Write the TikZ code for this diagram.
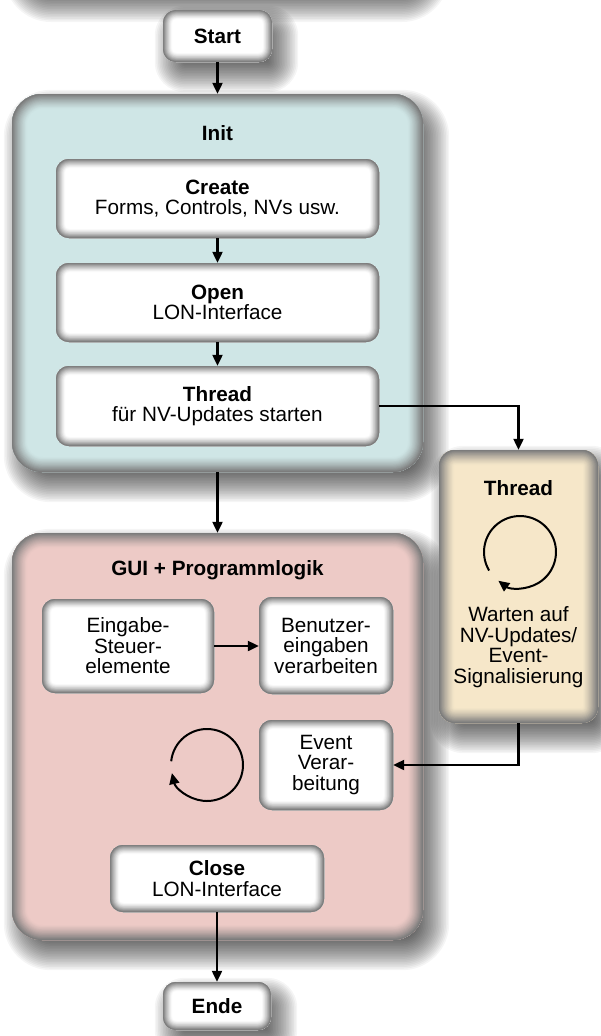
\documentclass[tikz,border=0pt]{standalone}
\usepackage{fontspec}
\setmainfont{Liberation Sans}
\usetikzlibrary{arrows.meta,calc}

\definecolor{edgegray}{HTML}{7C7C7C}
\definecolor{initfill}{HTML}{CFE6E6}
\definecolor{guifill}{HTML}{EDCAC6}
\definecolor{threadfill}{HTML}{F6E7C9}

\pgfdeclarelayer{shadow}
\pgfsetlayers{shadow,main}

\newcommand\fs{\fontsize{20.7}{20.5}\selectfont}

% inner bevel: stacked strokes along the border, clipped to the shape
\newcommand\bevelband[3]{%
  \foreach \k in {1,...,14}{%
    \pgfmathsetmacro\bw{2*#1*(15-\k)/14}%
    \pgfmathtruncatemacro\bp{round(100*(\k/14)^1.35)}%
    \draw[line width=\bw pt, draw=edgegray!\bp!#2, rounded corners=#3]
      (path picture bounding box.south west) rectangle (path picture bounding box.north east);
  }}

% soft drop shadow: stacked translucent rounded rectangles, offset down-right
\newcommand\castshadow[3]{% #1 lower-left corner, #2 upper-right corner, #3 corner radius
  \foreach \k in {0,...,21}{%
    \pgfmathsetmacro\e{17-34*\k/21}%
    \pgfmathsetmacro\rr{max(#3+\e,2)}%
    \fill[black, opacity=0.04, rounded corners=\rr pt]
      ($(#1)+(9-\e,13+\e)$) rectangle ($(#2)+(9+\e,13-\e)$);
  }}

\tikzset{
  bevel/.style n args={3}{fill=#2, rounded corners=#3, path picture={\bevelband{#1}{#2}{#3}}},
  stepbox/.style={bevel={9pt}{white}{13pt}, inner sep=0pt, align=center},
  panel/.style 2 args={bevel={15pt}{#1}{#2}, inner sep=0pt},
  conn/.style={line width=2.2pt, -{Triangle[length=11pt,width=10pt]}},
  loopline/.style={line width=2pt, -{Triangle[length=11pt,width=10pt]}},
  every node/.append style={font=\fs},
}

\begin{document}
\begin{tikzpicture}[x=1pt,y=-1pt]
\useasboundingbox (0,0) rectangle (600,1036);
\begin{pgfonlayer}{shadow}
\fill[white] (0,0) rectangle (600,1036);
\end{pgfonlayer}

% start
\node[stepbox, minimum width=109pt, minimum height=52pt] (start) at (217.5,36) {\textbf{Start}};

% init panel
\node[panel={initfill}{30pt}, minimum width=411pt, minimum height=378pt] (init) at (217.5,283) {};
\node (initT) at (217.5,133) {\textbf{Init}};
\node[stepbox, minimum width=323pt, minimum height=79pt] (create) at (217.5,198.5)
  {\textbf{Create}\\Forms, Controls, NVs usw.};
\node[stepbox, minimum width=323pt, minimum height=79pt] (open) at (217.5,302.5)
  {\textbf{Open}\\LON-Interface};
\node[stepbox, minimum width=323pt, minimum height=80pt] (thread) at (217.5,406)
  {\textbf{Thread}\\für NV-Updates starten};

% GUI panel
\node[panel={guifill}{30pt}, minimum width=411pt, minimum height=407pt] (gui) at (217.5,736.5) {};
\node (guiT) at (217.5,570) {\textbf{GUI + Programmlogik}};
\node[stepbox, minimum width=172pt, minimum height=94pt] (eing) at (128,646)
  {Eingabe-\\Steuer-\\elemente};
\node[stepbox, minimum width=134pt, minimum height=97pt] (benu) at (326,645.5)
  {Benutzer-\\eingaben\\verarbeiten};
\node[stepbox, minimum width=134pt, minimum height=90pt] (event) at (326,765)
  {Event\\Verar-\\beitung};
\node[stepbox, minimum width=214pt, minimum height=67pt] (close) at (217,878.5)
  {\textbf{Close}\\LON-Interface};
\coordinate (gloop) at (207,765);
\draw[loopline] (gloop) ++(186:36) arc[start angle=186, end angle=527, radius=36];

% end
\node[stepbox, minimum width=108pt, minimum height=48pt] (ende) at (217,1006) {\textbf{Ende}};

% worker thread panel
\node[panel={threadfill}{16pt}, minimum width=159pt, minimum height=273pt] (th2) at (518.5,586.5) {};
\node (th2T) at (518.5,488) {\textbf{Thread}};
\coordinate (tloop) at (520,552);
\draw[loopline] (tloop) ++(149:36) arc[start angle=149, end angle=487, radius=36];
\node[align=center] (th2txt) at (518.5,647) {Warten auf\\NV-Updates/\\Event-\\Signalisierung};

% connectors
\draw[conn] (start.south) -- (init.north);
\draw[conn] (create.south) -- (open.north);
\draw[conn] (open.south) -- (thread.north);
\draw[conn] (thread.east) -| (th2.north);
\draw[conn] (init.south) -- (gui.north);
\draw[conn] (eing.east) -- (eing.east -| benu.west);
\draw[conn] (th2.south) |- (event.east);
\draw[conn] (close.south) -- (ende.north);

% drop shadows behind the outer shapes
\coordinate (prevsw) at (12,-8);
\coordinate (prevne) at (423,-300);
\begin{pgfonlayer}{shadow}
  \castshadow{prevsw}{prevne}{30}
  \castshadow{start.south west}{start.north east}{13}
  \castshadow{init.south west}{init.north east}{30}
  \castshadow{gui.south west}{gui.north east}{30}
  \castshadow{th2.south west}{th2.north east}{16}
  \castshadow{ende.south west}{ende.north east}{13}
\end{pgfonlayer}
\end{tikzpicture}
\end{document}
